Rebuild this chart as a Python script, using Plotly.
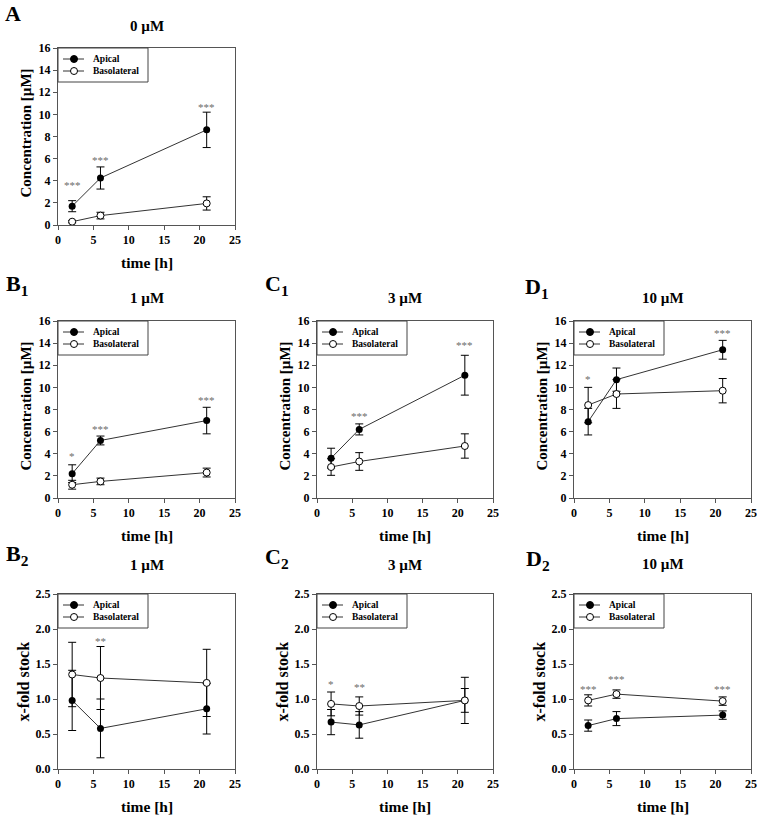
import plotly.graph_objects as go

# time points [h]
time_h = [2, 6, 21]

# concentration [uM] -- panels A, B1, C1, D1
conc_0_api = [1.7, 4.25, 8.6]
conc_0_api_sd = [0.5, 1.0, 1.6]
conc_0_bas = [0.3, 0.85, 1.95]
conc_0_bas_sd = [0.1, 0.3, 0.6]

conc_1_api = [2.2, 5.2, 7.0]
conc_1_api_sd = [0.8, 0.4, 1.2]
conc_1_bas = [1.2, 1.5, 2.3]
conc_1_bas_sd = [0.4, 0.3, 0.4]

conc_3_api = [3.6, 6.2, 11.1]
conc_3_api_sd = [0.9, 0.5, 1.8]
conc_3_bas = [2.8, 3.3, 4.7]
conc_3_bas_sd = [0.75, 0.8, 1.1]

conc_10_api = [6.9, 10.7, 13.4]
conc_10_api_sd = [1.2, 1.05, 0.85]
conc_10_bas = [8.4, 9.4, 9.7]
conc_10_bas_sd = [1.6, 1.3, 1.1]

# x-fold stock -- panels B2, C2, D2
fold_1_api = [0.98, 0.58, 0.86]
fold_1_api_sd = [0.43, 0.42, 0.36]
fold_1_bas = [1.35, 1.30, 1.23]
fold_1_bas_sd = [0.46, 0.45, 0.48]

fold_3_api = [0.67, 0.63, 0.98]
fold_3_api_sd = [0.18, 0.19, 0.17]
fold_3_bas = [0.93, 0.90, 0.98]
fold_3_bas_sd = [0.17, 0.13, 0.33]

fold_10_api = [0.62, 0.72, 0.77]
fold_10_api_sd = [0.08, 0.10, 0.06]
fold_10_bas = [0.98, 1.07, 0.97]
fold_10_bas_sd = [0.08, 0.06, 0.06]

# significance marks: (x, y, text)
stars_0 = [(2, 3.6, '***'), (6, 5.9, '***'), (21, 10.7, '***')]
stars_1 = [(2, 3.8, '*'), (6, 6.2, '***'), (21, 8.9, '***')]
stars_3 = [(6, 7.4, '***'), (21, 13.8, '***')]
stars_10 = [(2, 10.8, '*'), (21, 14.9, '***')]
fold_stars_1 = [(6, 1.83, '**')]
fold_stars_3 = [(2, 1.22, '*'), (6, 1.17, '**')]
fold_stars_10 = [(2, 1.15, '***'), (6, 1.28, '***'), (21, 1.15, '***')]

series_names = ['Apical', 'Basolateral']

W, H = 760, 817
FONT = 'Liberation Serif'


def px(p):
    return p / W


def py(p):
    return 1 - p / H


# pixel boxes of each plot area (left, right, top, bottom), plus label spots
panels = [
    dict(letter='A', lx=3, ly=13, title='0 µM', ty=26, box=(58, 235, 48, 225), kind='conc',
         api=conc_0_api, api_sd=conc_0_api_sd, bas=conc_0_bas, bas_sd=conc_0_bas_sd, stars=stars_0),
    dict(letter='B<sub>1</sub>', lx=4, ly=285, title='1 µM', ty=298, box=(58, 235, 321, 498), kind='conc',
         api=conc_1_api, api_sd=conc_1_api_sd, bas=conc_1_bas, bas_sd=conc_1_bas_sd, stars=stars_1),
    dict(letter='C<sub>1</sub>', lx=263, ly=285, title='3 µM', ty=298, box=(317, 493, 321, 498), kind='conc',
         api=conc_3_api, api_sd=conc_3_api_sd, bas=conc_3_bas, bas_sd=conc_3_bas_sd, stars=stars_3),
    dict(letter='D<sub>1</sub>', lx=523, ly=288, title='10 µM', ty=298, box=(574, 751, 321, 498), kind='conc',
         api=conc_10_api, api_sd=conc_10_api_sd, bas=conc_10_bas, bas_sd=conc_10_bas_sd, stars=stars_10),
    dict(letter='B<sub>2</sub>', lx=4, ly=555, title='1 µM', ty=565, box=(58, 235, 594, 769), kind='fold',
         api=fold_1_api, api_sd=fold_1_api_sd, bas=fold_1_bas, bas_sd=fold_1_bas_sd, stars=fold_stars_1),
    dict(letter='C<sub>2</sub>', lx=263, ly=558, title='3 µM', ty=565, box=(317, 493, 594, 769), kind='fold',
         api=fold_3_api, api_sd=fold_3_api_sd, bas=fold_3_bas, bas_sd=fold_3_bas_sd, stars=fold_stars_3),
    dict(letter='D<sub>2</sub>', lx=524, ly=560, title='10 µM', ty=564, box=(574, 751, 594, 769), kind='fold',
         api=fold_10_api, api_sd=fold_10_api_sd, bas=fold_10_bas, bas_sd=fold_10_bas_sd, stars=fold_stars_10),
]

fig = go.Figure()
layout = {}
annotations = []
shapes = []


def bold(size, color='black'):
    return dict(family=FONT, size=size, color=color, weight='bold')


for i, p in enumerate(panels):
    n = i + 1
    xa = 'x' if n == 1 else 'x%d' % n
    ya = 'y' if n == 1 else 'y%d' % n
    l, r, t, b = p['box']
    xd = [px(l), px(r)]
    yd = [py(b), py(t)]

    err = dict(type='data', thickness=1, width=4, color='black')
    fig.add_trace(go.Scatter(x=time_h, y=p['api'], name='Apical', mode='lines+markers',
                             error_y=dict(array=p['api_sd'], **err),
                             line=dict(color='#333333', width=1),
                             marker=dict(symbol='circle', size=7, color='black'),
                             xaxis=xa, yaxis=ya, showlegend=False))
    fig.add_trace(go.Scatter(x=time_h, y=p['bas'], name='Basolateral', mode='lines+markers',
                             error_y=dict(array=p['bas_sd'], **err),
                             line=dict(color='#333333', width=1),
                             marker=dict(symbol='circle', size=7, color='white',
                                         line=dict(color='black', width=1)),
                             xaxis=xa, yaxis=ya, showlegend=False))

    axkey = 'xaxis' if n == 1 else 'xaxis%d' % n
    aykey = 'yaxis' if n == 1 else 'yaxis%d' % n
    common = dict(showgrid=False, zeroline=False, showline=True, mirror=True, automargin=False,
                  linecolor='#555555', linewidth=1, ticks='outside', ticklen=4,
                  tickcolor='#555555', tickfont=bold(12), ticklabeloverflow='allow')
    layout[axkey] = dict(domain=xd, anchor=ya, range=[0, 25], dtick=5, tick0=0, **common)
    if p['kind'] == 'conc':
        yax = dict(range=[0, 16], dtick=2, tick0=0)
        ytxt, ysize, yoff, ymid = 'Concentration [µM]', 15, 33, (t + b) / 2 - 3
    else:
        yax = dict(range=[0, 2.5], dtick=0.5, tick0=0, tickformat='.1f')
        ytxt, ysize, yoff, ymid = 'x-fold stock', 16, 35, (t + b) / 2
    layout[aykey] = dict(domain=yd, anchor=xa, **yax, **common)

    # axis titles
    annotations.append(dict(text='time [h]', x=px((l + r) / 2), y=py(b + 37), xref='paper',
                            yref='paper', showarrow=False, xanchor='center', yanchor='middle',
                            font=bold(15.5)))
    annotations.append(dict(text=ytxt, x=px(l - yoff), y=py(ymid), xref='paper', yref='paper',
                            showarrow=False, textangle=-90, xanchor='center', yanchor='middle',
                            font=bold(ysize)))
    # panel title and letter
    annotations.append(dict(text=p['title'], x=px((l + r) / 2), y=py(p['ty']),
                            xref='paper', yref='paper', showarrow=False,
                            xanchor='center', yanchor='middle', font=bold(15)))
    annotations.append(dict(text=p['letter'], x=px(p['lx']), y=py(p['ly']),
                            xref='paper', yref='paper', showarrow=False,
                            xanchor='left', yanchor='middle', font=bold(22)))
    # significance stars
    for sx, sy, st in p['stars']:
        annotations.append(dict(text=st, x=sx, y=sy, xref=xa, yref=ya, showarrow=False,
                                xanchor='center', yanchor='middle',
                                font=dict(family=FONT, size=11, color='#6a6a6a')))

    # small boxed key in the top-left corner of each panel
    shapes.append(dict(type='rect', xref='paper', yref='paper', x0=px(l), x1=px(l + 90),
                       y0=py(t + 34), y1=py(t), line=dict(color='#444444', width=1),
                       fillcolor='white', layer='above'))
    for j, name in enumerate(series_names):
        yy = t + 11 + 12 * j
        shapes.append(dict(type='line', xref='paper', yref='paper', x0=px(l + 5), x1=px(l + 26),
                           y0=py(yy), y1=py(yy), line=dict(color='#333333', width=1),
                           layer='above'))
        shapes.append(dict(type='circle', xref='paper', yref='paper', xsizemode='pixel',
                           ysizemode='pixel', xanchor=px(l + 16), yanchor=py(yy),
                           x0=-3.5, x1=3.5, y0=-3.5, y1=3.5, layer='above',
                           fillcolor='black' if j == 0 else 'white',
                           line=dict(color='black', width=1)))
        annotations.append(dict(text=name, x=px(l + 33), y=py(yy), xref='paper', yref='paper',
                                showarrow=False, xanchor='left', yanchor='middle',
                                font=bold(9.5)))

fig.update_layout(**layout)
fig.update_layout(width=W, height=H, margin=dict(l=0, r=0, t=0, b=0),
                  plot_bgcolor='white', paper_bgcolor='white', showlegend=False,
                  annotations=annotations, shapes=shapes,
                  font=dict(family=FONT, color='black'))

# drop the default 8px page margin so the figure fills the window exactly
fig.write_html("out.html", config={'displayModeBar': False},
               post_script="document.body.style.margin='0';")
